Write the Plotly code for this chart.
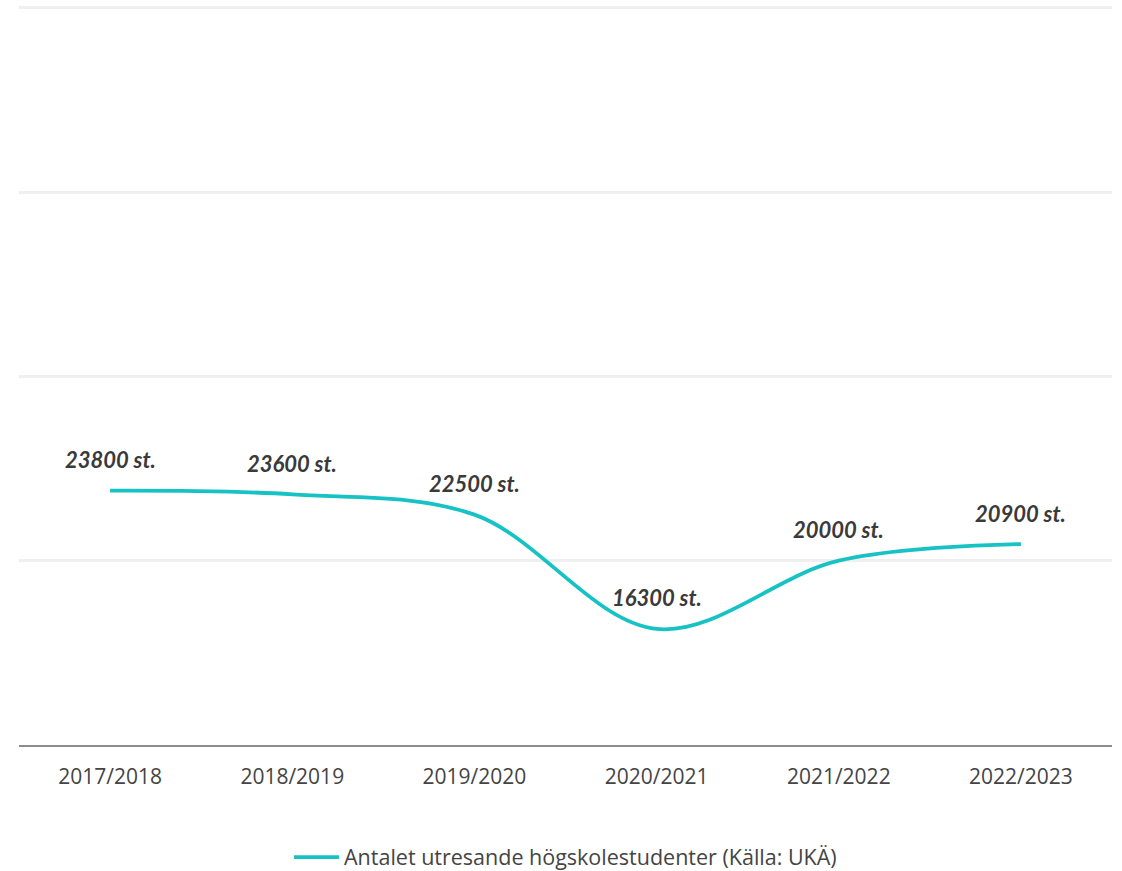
import plotly.graph_objects as go

# Number of outgoing university students per academic year
years = ["2017/2018", "2018/2019", "2019/2020", "2020/2021", "2021/2022", "2022/2023"]
students = [23800, 23600, 22500, 16300, 20000, 20900]
series_name = "Antalet utresande högskolestudenter (Källa: UKÄ)"

line_color = "#17c2c4"
text_color = "#444444"

fig = go.Figure()
fig.add_trace(go.Scatter(
    x=years,
    y=students,
    mode="lines",
    name=series_name,
    line=dict(color=line_color, width=3.8, shape="spline", smoothing=1.0),
    hoverinfo="x+y",
))

# Value labels above each point
for yr, val in zip(years, students):
    fig.add_annotation(
        x=yr, y=val, xref="x", yref="y",
        text=f"{val} st.",
        showarrow=False,
        yshift=31,
        font=dict(family="Lato", size=22, color="#3a3a3a", weight="bold", style="italic"),
    )

fig.update_layout(
    width=1122, height=871,
    margin=dict(l=19, r=10, t=6, b=126, autoexpand=False),
    paper_bgcolor="white",
    plot_bgcolor="white",
    showlegend=True,
    legend=dict(
        orientation="h",
        x=0.5, xanchor="center",
        yref="container",
        y=0.016, yanchor="middle",
        itemwidth=45,
        font=dict(family="Open Sans", size=21.5, color=text_color),
    ),
    xaxis=dict(
        type="category",
        range=[-0.5, 5.5],
        showgrid=False,
        showline=True,
        linecolor="#8c8c8c",
        linewidth=2,
        ticks="",
        ticklabelstandoff=12,
        tickfont=dict(family="Open Sans", size=21, color=text_color),
    ),
    yaxis=dict(
        range=[10000, 50100],
        tickvals=[20000, 30000, 40000, 50000],
        showgrid=True,
        gridcolor="#efefef",
        gridwidth=3,
        zeroline=False,
        showticklabels=False,
        showline=False,
    ),
)

fig.write_html("out.html")
